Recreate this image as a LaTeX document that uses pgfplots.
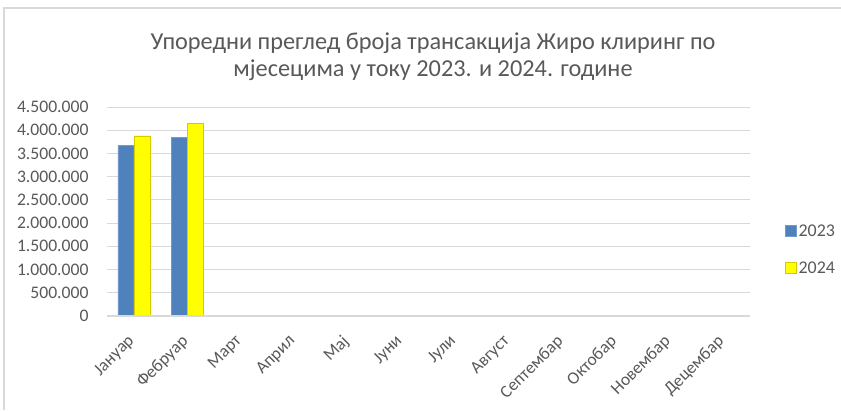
\documentclass[border=0pt]{standalone}
\usepackage{pgfplots}
\pgfplotsset{compat=1.18}
\usepackage{fontspec}
\setmainfont{Carlito}
\definecolor{xlblue}{HTML}{4F81BD}
\definecolor{xlyellow}{HTML}{FFFF00}
\definecolor{xlyedge}{HTML}{D9C800}
\definecolor{xltext}{HTML}{595959}
\definecolor{xlgrid}{HTML}{D9D9D9}
\definecolor{xlframe}{HTML}{D9D9D9}

\begin{document}
\begin{tikzpicture}[x=1bp,y=1bp]
  \useasboundingbox (0,0) rectangle (841,410);
  \fill[white] (0,0) rectangle (841,410);
  % chart frame (right and bottom edges fall outside the picture)
  \draw[xlframe, line width=1.2bp] (4,0) -- (4,402) -- (841,402);
  \node[align=center, text=xltext, font=\fontsize{24.4}{27}\selectfont] at (433,353)
    {Упоредни преглед броја трансакција Жиро клиринг по\\мјесецима у току 2023. и 2024. године};
  \begin{axis}[
    at={(107bp,94bp)}, anchor=south west,
    scale only axis, width=643bp, height=209bp,
    ybar=0pt, bar width=16bp,
    xmin=-0.5, xmax=11.5, ymin=0, ymax=4500000,
    scaled y ticks=false,
    axis line style={draw=none},
    axis x line*=bottom, axis y line*=left,
    ytick={0,500000,1000000,1500000,2000000,2500000,3000000,3500000,4000000,4500000},
    yticklabels={0,500.000,1.000.000,1.500.000,2.000.000,2.500.000,3.000.000,3.500.000,4.000.000,4.500.000},
    xtick={0,...,11},
    xticklabels={Јануар,Фебруар,Март,Април,Мај,Јуни,Јули,Август,Септембар,Октобар,Новембар,Децембар},
    major tick length=0pt,
    ymajorgrids, grid style={xlgrid, line width=1bp},
    tick label style={text=xltext, font=\fontsize{17.7}{20}\selectfont},
    x tick label style={xshift=-7bp, yshift=-16bp, rotate=45, anchor=north east, inner sep=1bp,
      font=\fontsize{17.5}{20}\selectfont},
    yticklabel style={xshift=-15bp},
    legend style={at={(1,0.316)}, anchor=west, xshift=32bp, draw=none, fill=none,
      font=\fontsize{18}{20}\selectfont, text=xltext, row sep=20bp,
      legend cell align=left, nodes={inner xsep=1bp}},
    legend image code/.code={\draw[#1] (0bp,-5bp) rectangle (11bp,6bp); \path (12bp,0bp);},
  ]
    \addplot[fill=xlblue, draw=xlblue!80!white] coordinates {(0,3667000) (1,3847000)};
    \addplot[fill=xlyellow, draw=xlyedge] coordinates {(0,3882000) (1,4149000)};
    \draw[xlgrid, line width=1.2bp] (axis cs:-0.5,0) -- (axis cs:11.5,0);
    \legend{2023,2024}
  \end{axis}
\end{tikzpicture}
\end{document}
